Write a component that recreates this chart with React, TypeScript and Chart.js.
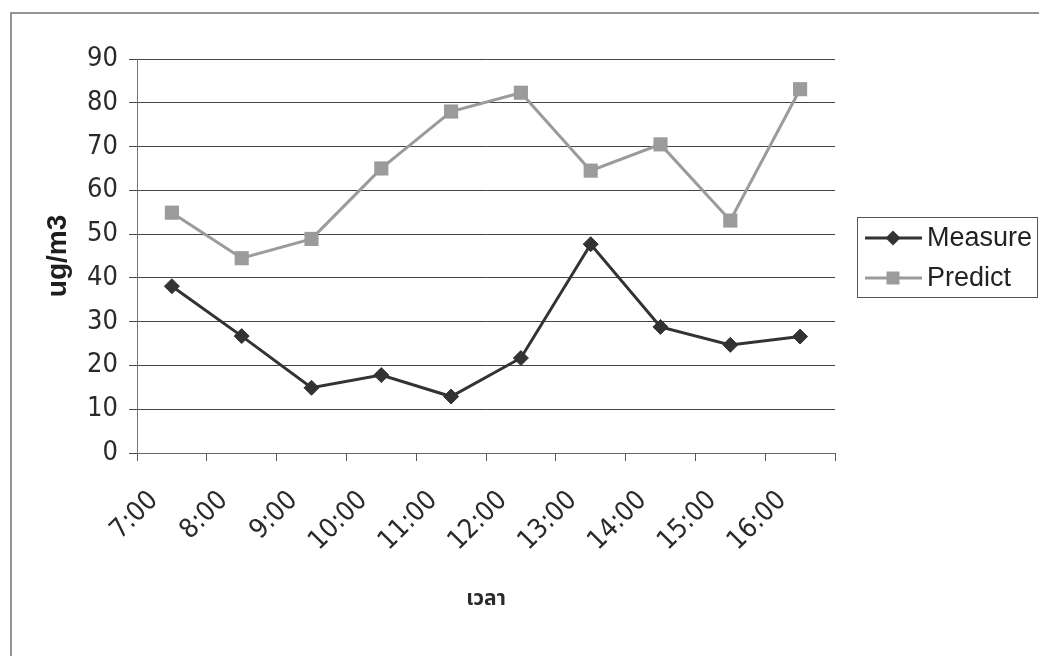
import React, { useEffect, useRef } from "react";
import { Chart, registerables } from "chart.js";

Chart.register(...registerables);

// Hourly readings
const hours = ["7:00", "8:00", "9:00", "10:00", "11:00", "12:00", "13:00", "14:00", "15:00", "16:00"];
const measureValues = [38.1, 26.7, 14.9, 17.8, 12.9, 21.7, 47.7, 28.8, 24.7, 26.6];
const predictValues = [54.9, 44.5, 48.9, 65.0, 78.0, 82.3, 64.5, 70.5, 53.1, 83.1];
const yTicks = [0, 10, 20, 30, 40, 50, 60, 70, 80, 90];

const MEASURE_COLOR = "#333333";
const PREDICT_COLOR = "#9b9b9b";
const TICK_FONT = "'DejaVu Sans Condensed', 'DejaVu Sans', sans-serif";
const LABEL_FONT = "'Liberation Sans', Arial, sans-serif";
const THAI_FONT = "'Noto Sans Thai', 'Noto Serif Thai', Loma, Garuda, 'Tlwg Typo', sans-serif";

// White page, outer frame (top and left edges) and a boxed legend on the right
const framePlugin = {
  id: "frame",
  beforeDraw(chart: Chart) {
    const ctx = chart.ctx;
    ctx.save();
    ctx.fillStyle = "#ffffff";
    ctx.fillRect(0, 0, chart.width, chart.height);
    ctx.strokeStyle = "#707070";
    ctx.lineWidth = 1.5;
    ctx.beginPath();
    ctx.moveTo(11, chart.height);
    ctx.lineTo(11, 13);
    ctx.lineTo(chart.width, 13);
    ctx.stroke();
    ctx.restore();
  },
};

const legendPlugin = {
  id: "boxLegend",
  afterDraw(chart: Chart) {
    const ctx = chart.ctx;
    const left = 857;
    const top = 217;
    const right = 1037;
    const bottom = 297;
    ctx.save();
    ctx.strokeStyle = "#555555";
    ctx.lineWidth = 1;
    ctx.strokeRect(left + 0.5, top + 0.5, right - left, bottom - top);
    const rows = [238, 278];
    chart.data.datasets.forEach((ds: any, i: number) => {
      const y = rows[i];
      const color = ds.borderColor as string;
      ctx.strokeStyle = color;
      ctx.fillStyle = color;
      ctx.lineWidth = 3;
      ctx.beginPath();
      ctx.moveTo(865, y);
      ctx.lineTo(922, y);
      ctx.stroke();
      const cx = 893;
      ctx.beginPath();
      if (ds.pointStyle === "rectRot") {
        const r = 7.5;
        ctx.moveTo(cx - r, y);
        ctx.lineTo(cx, y - r);
        ctx.lineTo(cx + r, y);
        ctx.lineTo(cx, y + r);
        ctx.closePath();
      } else {
        const s = 6.5;
        ctx.rect(cx - s, y - s, 2 * s, 2 * s);
      }
      ctx.fill();
      ctx.fillStyle = "#222222";
      ctx.font = `27px ${LABEL_FONT}`;
      ctx.textAlign = "left";
      ctx.textBaseline = "middle";
      ctx.fillText(ds.label, 927, y + 1);
    });
    ctx.restore();
  },
};

export default function App() {
  const canvasRef = useRef<HTMLCanvasElement | null>(null);

  useEffect(() => {
    if (!canvasRef.current) return;
    const chart = new Chart(canvasRef.current, {
      type: "line",
      data: {
        labels: hours,
        datasets: [
          {
            label: "Measure",
            data: measureValues,
            borderColor: MEASURE_COLOR,
            backgroundColor: MEASURE_COLOR,
            borderWidth: 3,
            pointStyle: "rectRot",
            pointRadius: 7.5,
            pointBorderWidth: 1,
            pointHoverRadius: 7.5,
            tension: 0,
          },
          {
            label: "Predict",
            data: predictValues,
            borderColor: PREDICT_COLOR,
            backgroundColor: PREDICT_COLOR,
            borderWidth: 3,
            pointStyle: "rect",
            pointRadius: 10,
            pointBorderWidth: 0,
            pointHoverRadius: 10,
            tension: 0,
          },
        ],
      },
      options: {
        responsive: false,
        animation: false,
        events: [],
        layout: { padding: { left: 0, top: 59, right: 204, bottom: 0 } },
        plugins: {
          legend: { display: false },
          tooltip: { enabled: false },
        },
        scales: {
          x: {
            type: "category",
            offset: true,
            grid: {
              offset: true,
              drawOnChartArea: false,
              drawTicks: true,
              tickLength: 8,
              color: "#555555",
            },
            border: { color: "#666666", width: 1 },
            ticks: {
              autoSkip: false,
              minRotation: 45,
              maxRotation: 45,
              labelOffset: -18,
              padding: 24,
              color: "#2a2a2a",
              font: { family: TICK_FONT, size: 27 },
            },
            title: {
              display: true,
              text: "เวลา",
              color: "#2a2a2a",
              font: { family: THAI_FONT, size: 21, weight: "bold" },
              padding: { top: 0, bottom: 43 },
            },
            afterFit: (scale: any) => {
              scale.height = 203;
            },
          },
          y: {
            min: 0,
            max: 90,
            afterBuildTicks: (scale: any) => {
              scale.ticks = yTicks.map((v) => ({ value: v }));
            },
            grid: {
              color: "#444444",
              lineWidth: 1,
              tickLength: 8,
            },
            border: { color: "#777777", width: 1 },
            ticks: {
              padding: 11,
              color: "#2a2a2a",
              font: { family: TICK_FONT, size: 27 },
            },
            title: {
              display: true,
              text: "ug/m3",
              color: "#1e1e1e",
              font: { family: LABEL_FONT, size: 28, weight: "bold" },
              padding: { top: 41, bottom: 0 },
            },
            afterFit: (scale: any) => {
              scale.width = 137;
            },
          },
        },
      },
      plugins: [framePlugin, legendPlugin],
    });
    return () => chart.destroy();
  }, []);

  return (
    <div style={{ position: "absolute", left: 0, top: 0, width: 1039, height: 656 }}>
      <canvas ref={canvasRef} width={1039} height={656} />
    </div>
  );
}
